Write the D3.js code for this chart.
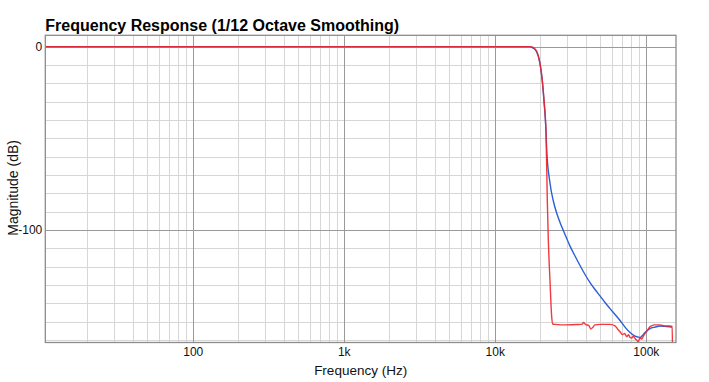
<!DOCTYPE html>
<html>
<head>
<meta charset="utf-8">
<script src="https://cdn.jsdelivr.net/npm/d3@7"></script>
<style>
  html, body { margin: 0; padding: 0; background: #fff; }
  svg { display: block; font-family: "Liberation Sans", Arial, Helvetica, sans-serif; }
</style>
</head>
<body>
<svg id="chart" width="709" height="382"></svg>
<script>
// ---- data ----
const title = "Frequency Response (1/12 Octave Smoothing)";
const xLabel = "Frequency (Hz)";
const yLabel = "Magnitude (dB)";
const xDomain = [10.55, 158500];
const yDomain = [-161.4, 6.2];
const xTickValues = [100, 1000, 10000, 100000];
const xTickLabels = ["100", "1k", "10k", "100k"];
const yTickValues = [0, -100];
const yTickLabels = ["0", "-100"];

const blueFreq = [10.55, 17000, 17500, 18000, 18950, 19900, 20600, 21200, 21800, 22070, 23210, 24410, 25720, 27040, 28430, 29950, 31490, 33980, 36680, 39590, 42730, 46110, 49760, 53700, 57950, 62550, 67500, 72850, 78620, 84850, 88500, 91560, 95000, 98810, 106600, 115100, 124200, 134100, 144700, 149200];
const blueDb   = [0, 0, -0.3, -0.8, -2.9, -9, -18, -30.5, -45, -56.4, -74.5, -84.2, -90.9, -95.9, -100.3, -104.7, -108.8, -114.2, -119.4, -124.3, -128.7, -132.5, -136.0, -139.6, -142.9, -146.1, -149.4, -153.0, -156.0, -157.9, -158.4, -158.7, -157.6, -156.0, -153.8, -153.0, -152.4, -152.6, -152.8, -153.0];

const redFreq = [10.55, 17000, 17600, 18950, 19900, 20600, 21180, 21840, 22270, 22620, 23210, 23820, 24190, 25000, 30000, 35000, 38000, 38600, 40000, 42000, 43200, 44500, 46000, 49800, 58000, 62500, 65000, 67500, 70000, 72500, 74700, 77000, 78500, 80700, 82500, 84000, 86000, 87100, 89000, 91600, 93500, 95000, 97000, 98900, 102000, 106700, 115000, 124000, 134000, 144500, 149500, 150500];
const redDb   = [0, 0, -0.1, -2.5, -9, -18, -29, -47, -84, -105.5, -128, -147.5, -151.3, -151.5, -151.8, -151.6, -151.4, -150.5, -151.6, -152.2, -154, -153.2, -151.8, -151.5, -151.5, -152.3, -154, -155.5, -157, -156.5, -158.2, -157.2, -158.5, -159, -158, -158.6, -159.8, -160, -161, -158.7, -159.5, -159, -157.5, -156.4, -155, -152.7, -151.8, -151.8, -152.4, -152.4, -152.6, -170];

// ---- layout ----
const svg = d3.select("#chart");
const plot = { left: 45.3, right: 676, top: 35.3, bottom: 342.5 };

const x = d3.scaleLog().domain(xDomain).range([plot.left, plot.right]);
const y = d3.scaleLinear().domain(yDomain).range([plot.bottom, plot.top]);

// minor grid values
const xMinor = [];
for (let dec = 10; dec <= 100000; dec *= 10) {
  for (let m = 2; m <= 9; m++) {
    const v = dec * m;
    if (v > xDomain[0] && v < xDomain[1]) xMinor.push(v);
  }
}
const yMinor = d3.range(-160, 0.1, 10).filter(v => v !== 0 && v !== -100);

const grid = svg.append("g");
grid.selectAll(".xminor").data(xMinor).enter().append("line")
  .attr("x1", d => Math.round(x(d)) + 0.5).attr("x2", d => Math.round(x(d)) + 0.5)
  .attr("y1", plot.top).attr("y2", plot.bottom)
  .attr("stroke", "#d6d6d6").attr("stroke-width", 1);
grid.selectAll(".yminor").data(yMinor).enter().append("line")
  .attr("x1", plot.left).attr("x2", plot.right)
  .attr("y1", d => Math.round(y(d)) + 0.5).attr("y2", d => Math.round(y(d)) + 0.5)
  .attr("stroke", "#d6d6d6").attr("stroke-width", 1);
grid.selectAll(".xmajor").data(xTickValues).enter().append("line")
  .attr("x1", d => Math.round(x(d)) + 0.5).attr("x2", d => Math.round(x(d)) + 0.5)
  .attr("y1", plot.top).attr("y2", plot.bottom)
  .attr("stroke", "#9a9a9a").attr("stroke-width", 1);
grid.selectAll(".ymajor").data(yTickValues).enter().append("line")
  .attr("x1", plot.left).attr("x2", plot.right)
  .attr("y1", d => Math.round(y(d)) + 0.5).attr("y2", d => Math.round(y(d)) + 0.5)
  .attr("stroke", "#9a9a9a").attr("stroke-width", 1);

// clip
svg.append("clipPath").attr("id", "clip").append("rect")
  .attr("x", plot.left).attr("y", plot.top)
  .attr("width", plot.right - plot.left).attr("height", plot.bottom - plot.top);

const line = d3.line()
  .x(d => x(d[0])).y(d => y(d[1]))
  .curve(d3.curveMonotoneX);

const curves = svg.append("g").attr("clip-path", "url(#clip)");
curves.append("path")
  .datum(blueFreq.map((f, i) => [f, blueDb[i]]))
  .attr("d", line).attr("fill", "none")
  .attr("stroke", "#2a5fd6").attr("stroke-width", 1.4);
curves.append("path")
  .datum(redFreq.map((f, i) => [f, redDb[i]]))
  .attr("d", line).attr("fill", "none")
  .attr("stroke", "#f0232a").attr("stroke-width", 1.4).attr("stroke-opacity", 0.9);

// border
svg.append("rect")
  .attr("x", plot.left).attr("y", plot.top)
  .attr("width", plot.right - plot.left).attr("height", plot.bottom - plot.top)
  .attr("fill", "none").attr("stroke", "#8c8c8c").attr("stroke-width", 1.3);

// axes (labels only, via d3 axes)
const xAxis = d3.axisBottom(x).tickValues(xTickValues)
  .tickFormat((d, i) => xTickLabels[i]).tickSize(0).tickPadding(5);
const gx = svg.append("g").attr("transform", `translate(0,${plot.bottom})`).call(xAxis);
gx.select(".domain").remove();
gx.selectAll("text").attr("font-size", 12).attr("fill", "#111")
  .attr("font-family", "'Liberation Sans', Arial, sans-serif");

const yAxis = d3.axisLeft(y).tickValues(yTickValues)
  .tickFormat((d, i) => yTickLabels[i]).tickSize(0).tickPadding(3);
const gy = svg.append("g").attr("transform", `translate(${plot.left},0)`).call(yAxis);
gy.select(".domain").remove();
gy.selectAll("text").attr("font-size", 12).attr("fill", "#111")
  .attr("font-family", "'Liberation Sans', Arial, sans-serif");

// titles
svg.append("text").attr("x", plot.left).attr("y", 30.5)
  .attr("font-size", 16).attr("font-weight", "bold").attr("fill", "#000")
  .text(title);
svg.append("text").attr("x", (plot.left + plot.right) / 2).attr("y", 374.5)
  .attr("text-anchor", "middle").attr("font-size", 13.5).attr("fill", "#111")
  .text(xLabel);
svg.append("text")
  .attr("transform", `translate(17.5,${(plot.top + plot.bottom) / 2 - 1}) rotate(-90)`)
  .attr("text-anchor", "middle").attr("font-size", 14).attr("fill", "#111")
  .text(yLabel);
</script>
</body>
</html>
